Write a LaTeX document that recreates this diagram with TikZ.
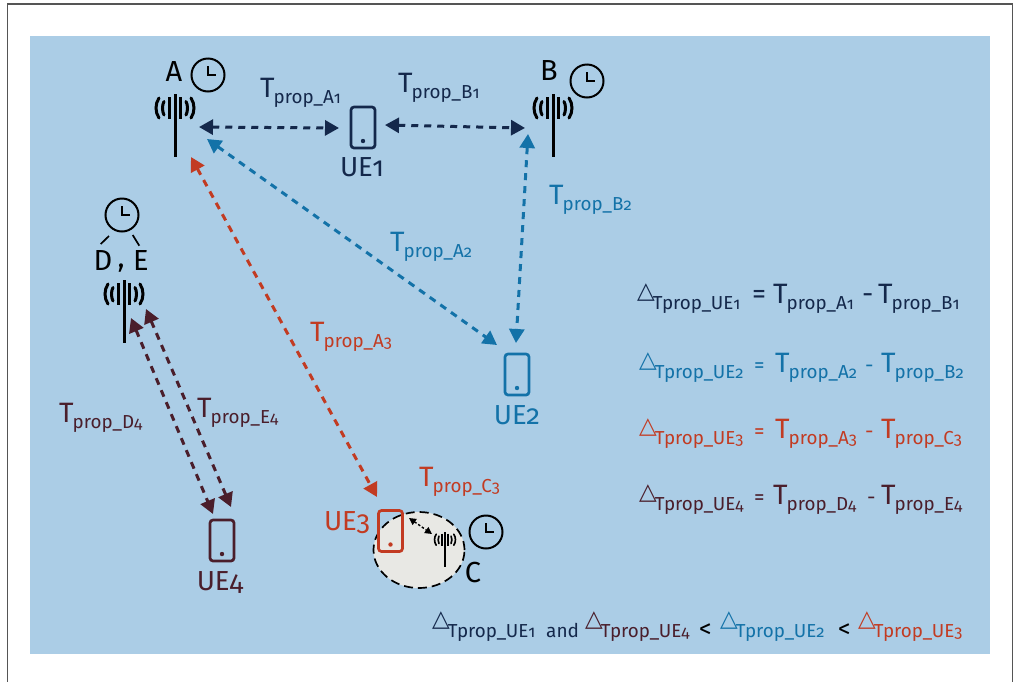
\documentclass[tikz,border=0pt]{standalone}
\usepackage{fontspec}
\setmainfont[Numbers=OldStyle]{Fira Sans}
\newfontfamily\symbolfont{DejaVu Sans}
\usetikzlibrary{arrows.meta,shapes.geometric}
\definecolor{bgblue}{HTML}{ABCDE6}
\definecolor{navy}{HTML}{14284B}
\definecolor{ueblue}{HTML}{1372A8}
\definecolor{uered}{HTML}{C23B22}
\definecolor{maroon}{HTML}{4A1E2B}
\definecolor{cellgrey}{HTML}{E8E8E4}
\definecolor{framegrey}{HTML}{555555}
\newcommand{\Tp}[2]{{\fontsize{28}{30}\selectfont T}\hspace{-1pt}\raisebox{-6.5pt}{\fontsize{18.8}{22}\selectfont prop\_#1{\fontsize{16.5}{20}\selectfont #2}}}
\newcommand{\Dl}[1]{\raisebox{5pt}{\fontsize{23}{20}\selectfont\symbolfont △}\hspace{-2pt}\raisebox{-6.5pt}{\fontsize{18.8}{22}\selectfont Tprop\_UE{\fontsize{16.5}{20}\selectfont #1}}}
\tikzset{
 x=1pt,y=-1pt,
 lbl/.style={inner sep=0pt,font=\fontsize{29}{30}\selectfont},
 uelbl/.style={inner sep=0pt,font=\fontsize{27.5}{30}\selectfont},
 lb/.style={inner sep=0pt,anchor=base west},
 link/.style={line width=3pt,dash pattern=on 7pt off 6pt,{Triangle[length=14pt,width=15pt]}-{Triangle[length=14pt,width=15pt]}},
 phone/.style={draw=#1,line width=2.7pt,rounded corners=3pt,minimum width=24pt,minimum height=41pt,inner sep=0pt},
 clock/.style={circle,draw=black,line width=2pt,minimum size=33pt,inner sep=0pt},
 tick/.style={black,line width=1.7pt},
 eqbig/.style={lb,font=\fontsize{28}{30}\selectfont},
 eqsmall/.style={lb,font=\fontsize{21}{30}\selectfont},
}
\newcommand{\tower}[3]{\begin{scope}[shift={(#1,#2)},scale=#3,line width=#3*3pt,black]
 \draw (0,0) -- (0,63);
 \draw[line width=#3*3.4pt] (-5.5,3) -- (-5.5,25) (5.5,3) -- (5.5,25);
 \draw[line cap=round] (-11,7.5) .. controls (-13,11) and (-13,17) .. (-11,21);
 \draw[line cap=round] (11,7.5) .. controls (13,11) and (13,17) .. (11,21);
 \draw[line cap=round] (-16,4) .. controls (-20,10) and (-20,18) .. (-16,24);
 \draw[line cap=round] (16,4) .. controls (20,10) and (20,18) .. (16,24);
\end{scope}}
\newcommand{\hands}[2]{\draw[line width=2pt] (#1,#2-9) -- (#1,#2) -- (#1+8,#2);}
\begin{document}
\begin{tikzpicture}
\useasboundingbox (0,0) rectangle (1019,681);
\fill[white] (0,0) rectangle (1019,681);
\draw[framegrey,line width=1.3pt] (7.5,690) -- (7.5,4) -- (1012.7,4) -- (1012.7,690);
\fill[bgblue] (30,36) rectangle (990,654);
% cell of C
\node[ellipse,fill=cellgrey,draw=black,line width=1.7pt,dash pattern=on 9pt off 5pt,minimum width=91pt,minimum height=76pt,inner sep=0pt] (cell) at (419,550) {};
% towers
\tower{175}{94}{1}
\tower{553}{94}{1}
\tower{124}{280}{1}
\tower{445}{532}{.55}
% clocks
\node[clock] (clkA) at (208,75) {}; \hands{208}{75}
\node[clock] (clkB) at (587,81) {}; \hands{587}{81}
\node[clock] (clkD) at (122,215) {}; \hands{122}{215}
\node[clock] (clkC) at (486,532) {}; \hands{486}{532}
% phones
\node[phone=navy] (ue1) at (363,127.5) {}; \fill[navy] (363,141) circle (2.2pt);
\node[phone=ueblue] (ue2) at (517,374.5) {}; \fill[ueblue] (517,388) circle (2.2pt);
\node[phone=uered] (ue3) at (390.5,531) {}; \fill[uered] (390.5,544.5) circle (2.2pt);
\node[phone=maroon] (ue4) at (222,540.5) {}; \fill[maroon] (222,554) circle (2.2pt);
% anchors
\coordinate (a1) at (199,127); \coordinate (u1l) at (339,128);
\coordinate (u1r) at (385,125); \coordinate (b1) at (525,128);
\coordinate (a2) at (207,139); \coordinate (u2a) at (497,345);
\coordinate (b2) at (528,134); \coordinate (u2b) at (516,343);
\coordinate (a3) at (191,157); \coordinate (u3a) at (377,497);
\coordinate (d4) at (131,318); \coordinate (u4d) at (213,514);
\coordinate (e4) at (146,309); \coordinate (u4e) at (231,507);
\coordinate (c3) at (432,534); \coordinate (u3c) at (409,518);
\coordinate (tl1) at (109,236); \coordinate (tl2) at (100.7,244);
\coordinate (tr1) at (132.7,235); \coordinate (tr2) at (139.3,245.7);
% connectors
\draw[link,navy] (a1) -- (u1l);
\draw[link,navy] (u1r) -- (b1);
\draw[link,ueblue] (a2) -- (u2a);
\draw[link,ueblue] (b2) -- (u2b);
\draw[link,uered] (a3) -- (u3a);
\draw[link,maroon] (d4) -- (u4d);
\draw[link,maroon] (e4) -- (u4e);
\draw[black,line width=1.4pt,dash pattern=on 2.5pt off 2pt,{Triangle[length=7pt,width=7pt]}-{Triangle[length=7pt,width=7pt]}] (u3c) -- (c3);
\draw[tick] (tl1) -- (tl2);
\draw[tick] (tr1) -- (tr2);
% station labels
\node[lbl] (lA) at (174,72) {A};
\node[lbl] (lB) at (549,71) {B};
\node[lbl] (lC) at (473,572) {C};
\node[lbl] (lD) at (103,261) {D};
\node[lbl] (lcomma) at (121,268) {,};
\node[lbl] (lE) at (141,261) {E};
% UE labels
\node[uelbl,text=navy] (t1) at (362,167) {UE1};
\node[uelbl,text=ueblue] (t2) at (517,415) {UE2};
\node[uelbl,text=uered] (t3) at (347,523) {UE3};
\node[uelbl,text=maroon] (t4) at (220,582) {UE4};
% link labels
\node[lb,text=navy] (la1) at (260,97) {\Tp{A}{1}};
\node[lb,text=navy] (lb1) at (398,92) {\Tp{B}{1}};
\node[lb,text=ueblue] (lb2) at (549,204) {\Tp{B}{2}};
\node[lb,text=ueblue] (la2) at (390,251) {\Tp{A}{2}};
\node[lb,text=uered] (la3) at (310,341) {\Tp{A}{3}};
\node[lb,text=uered] (lc3) at (419,486) {\Tp{C}{3}};
\node[lb,text=maroon] (ld4) at (59,422) {\Tp{D}{4}};
\node[lb,text=maroon] (le4) at (197,417) {\Tp{E}{4}};
% equations
\node[lb,text=navy] (e1a) at (637,303) {\Dl{1}};
\node[eqbig,text=navy] (e1b) at (752,303) {=};
\node[lb,text=navy] (e1c) at (773,303) {\Tp{A}{1}};
\node[eqbig,text=navy] (e1d) at (862,303) {-};
\node[lb,text=navy] (e1e) at (878,303) {\Tp{B}{1}};
\node[lb,text=ueblue] (e2a) at (639,372) {\Dl{2}};
\node[eqsmall,text=ueblue] (e2b) at (754,372) {=};
\node[lb,text=ueblue] (e2c) at (775,372) {\Tp{A}{2}};
\node[eqsmall,text=ueblue] (e2d) at (865,372) {-};
\node[lb,text=ueblue] (e2e) at (881,372) {\Tp{B}{2}};
\node[lb,text=uered] (e3a) at (639,438) {\Dl{3}};
\node[eqsmall,text=uered] (e3b) at (754,438) {=};
\node[lb,text=uered] (e3c) at (775,438) {\Tp{A}{3}};
\node[eqsmall,text=uered] (e3d) at (865,438) {-};
\node[lb,text=uered] (e3e) at (881,438) {\Tp{C}{3}};
\node[lb,text=maroon] (e4a) at (639,504) {\Dl{4}};
\node[eqsmall,text=maroon] (e4b) at (754,504) {=};
\node[lb,text=maroon] (e4c) at (773,504) {\Tp{D}{4}};
\node[eqsmall,text=maroon] (e4d) at (867,504) {-};
\node[lb,text=maroon] (e4e) at (881,504) {\Tp{E}{4}};
% inequality
\node[lb,text=navy] (i1) at (432,631) {\Dl{1}};
\node[lb,text=navy,font=\fontsize{19}{22}\selectfont] (iand) at (546,637) {and};
\node[lb,text=maroon] (i4) at (585,631) {\Dl{4}};
\node[lb,font=\fontsize{25}{22}\selectfont] (ilt1) at (699,637) {<};
\node[lb,text=ueblue] (i2) at (720,631) {\Dl{2}};
\node[lb,font=\fontsize{25}{22}\selectfont] (ilt2) at (838,637) {<};
\node[lb,text=uered] (i3) at (858,631) {\Dl{3}};
\end{tikzpicture}
\end{document}
